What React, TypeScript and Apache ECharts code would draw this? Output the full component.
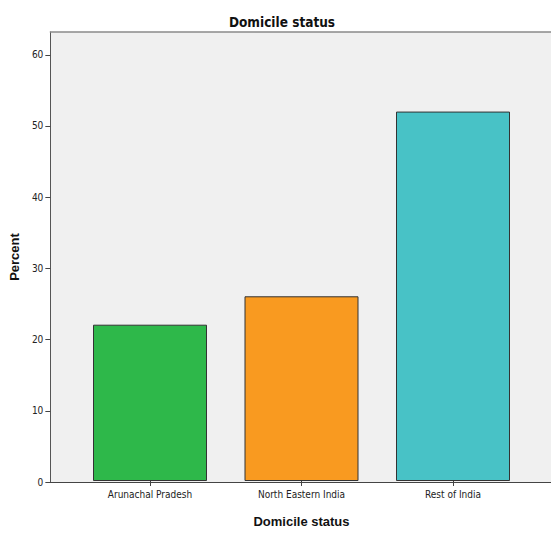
import React, { useEffect, useRef } from "react";
import * as echarts from "echarts";

const categories = ["Arunachal Pradesh", "North Eastern India", "Rest of India"];
const percentValues = [22, 26, 52];
const barColors = ["#2eb84a", "#f99a20", "#48c2c6"];
const yTickValues = [0, 10, 20, 30, 40, 50, 60];

export default function App() {
  const ref = useRef<HTMLDivElement>(null);
  useEffect(() => {
    document.body.style.margin = "0";
    const chart = echarts.init(ref.current!, null, { renderer: "svg" });
    const font = "'DejaVu Sans Condensed', 'Liberation Sans', Arial, sans-serif";
    const bold = "'Liberation Sans', Arial, sans-serif";
    chart.setOption({
      animation: false,
      title: {
        text: "Domicile status",
        left: 277,
        textAlign: "center",
        top: 10,
        textStyle: { fontFamily: font, fontSize: 13.5, fontWeight: "bold", color: "#111" },
      },
      grid: [
        {
          left: 47.5, top: 32, right: -20, bottom: 51,
          show: true, backgroundColor: "#f0f0f0", borderWidth: 0,
          containLabel: false,
        },
        { left: 74.25, top: 32, right: 22.25, bottom: 51, containLabel: false },
      ],
      xAxis: [
        {
          type: "value", gridIndex: 0, min: 0, max: 1, position: "bottom",
          axisLine: { show: true, onZero: false, lineStyle: { color: "#444", width: 1 } },
          axisTick: { show: false }, axisLabel: { show: false }, splitLine: { show: false },
        },
        {
          type: "category", gridIndex: 1, data: categories,
          axisLine: { show: false },
          axisTick: { show: true, alignWithLabel: true, length: 5, lineStyle: { color: "#444" } },
          axisLabel: { fontFamily: font, fontSize: 10, color: "#222", margin: 8 },
          name: "Domicile status", nameLocation: "middle", nameGap: 34,
          nameTextStyle: { fontFamily: bold, fontSize: 13, fontWeight: "bold", color: "#111" },
        },
        {
          type: "value", gridIndex: 0, min: 0, max: 1, position: "top",
          axisLine: { show: true, onZero: false, lineStyle: { color: "#8a8a8a", width: 1.5 } },
          axisTick: { show: false }, axisLabel: { show: false }, splitLine: { show: false },
        },
      ],
      yAxis: [
        {
          type: "value", gridIndex: 0, min: 0, max: 63.2,
          axisLine: { show: true, lineStyle: { color: "#555", width: 1 } },
          axisTick: { show: true, length: 5, customValues: yTickValues, lineStyle: { color: "#444" } },
          axisLabel: { customValues: yTickValues, fontFamily: font, fontSize: 10, color: "#222", margin: 7 },
          splitLine: { show: false },
          name: "Percent", nameLocation: "middle", nameGap: 26,
          nameTextStyle: { fontFamily: bold, fontSize: 13, fontWeight: "bold", color: "#111" },
        },
        { type: "value", gridIndex: 1, min: 0, max: 63.2, show: false },
      ],
      series: [
        {
          type: "bar", xAxisIndex: 1, yAxisIndex: 1, barWidth: 114,
          data: percentValues.map((v, i) => ({ value: v, itemStyle: { color: barColors[i] } })),
          itemStyle: { borderColor: "#333", borderWidth: 1 },
        },
      ],
    });
    return () => chart.dispose();
  }, []);
  return <div ref={ref} style={{ width: 551, height: 533 }} />;
}
